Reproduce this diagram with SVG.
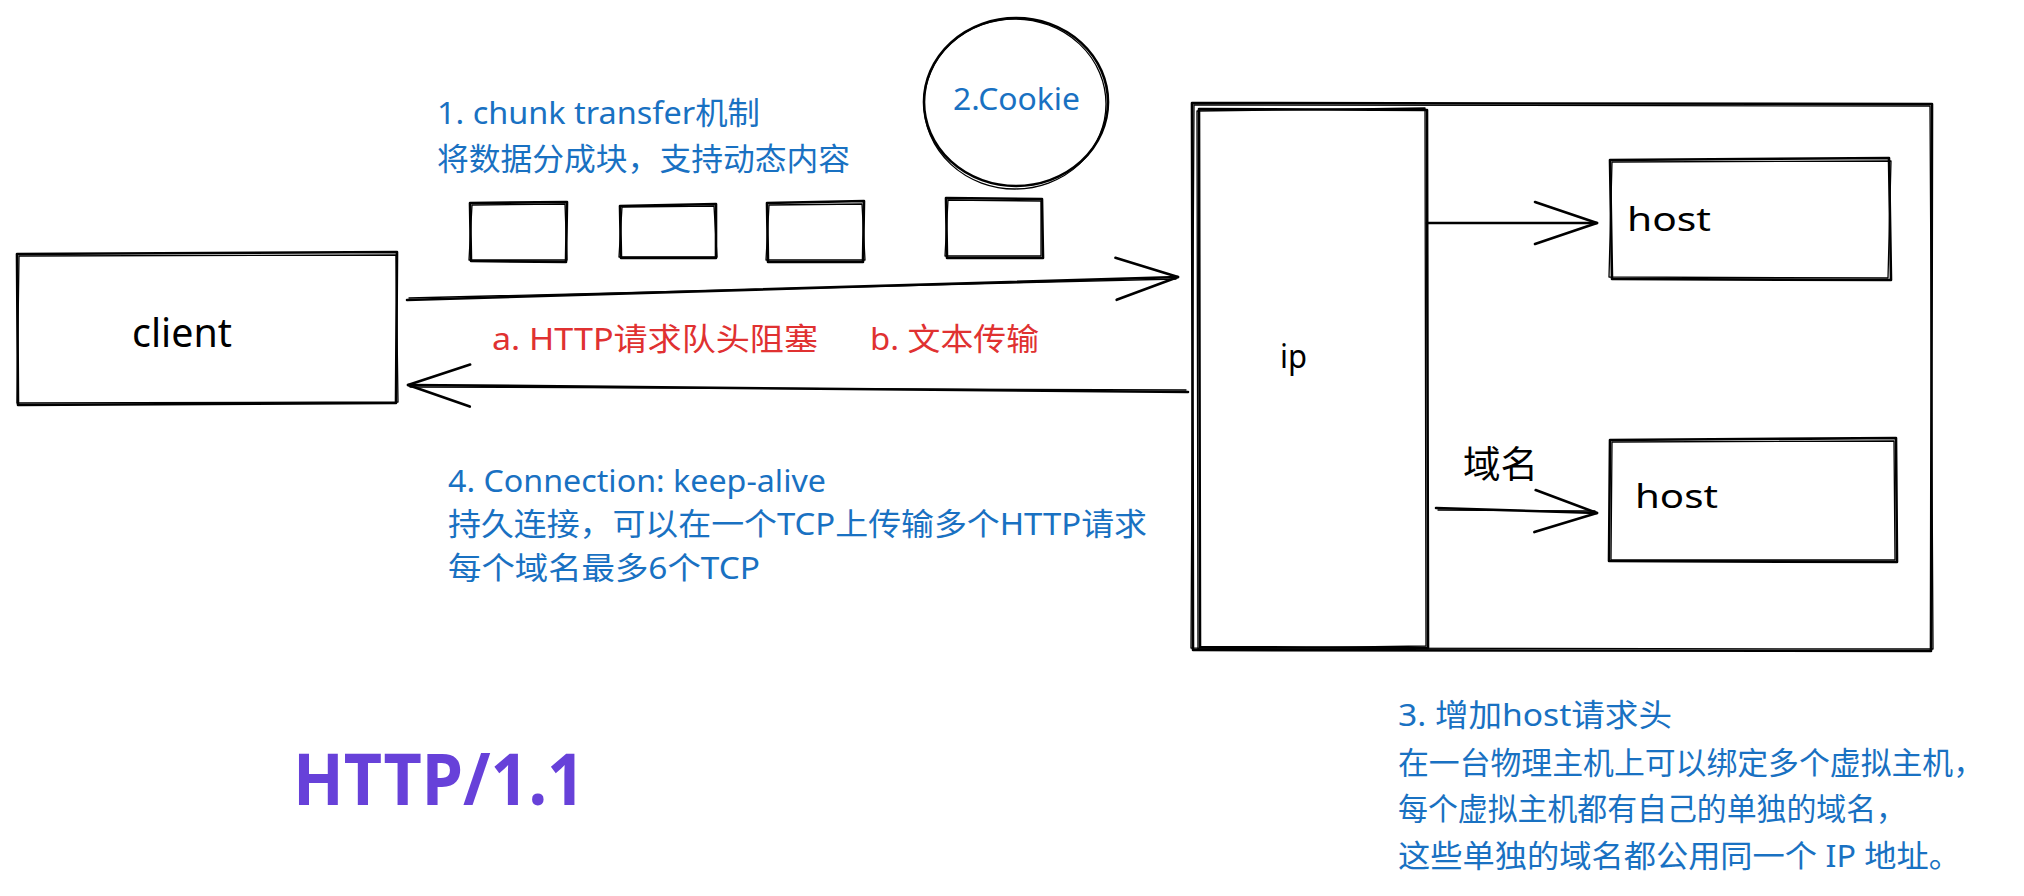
<svg xmlns="http://www.w3.org/2000/svg" width="2024" height="896" viewBox="0 0 2024 896">
<style>
.sk{fill:none;stroke:#000;stroke-width:2.6;stroke-linecap:round;stroke-linejoin:round}
.sk2{fill:none;stroke:#000;stroke-width:1.3;stroke-linecap:round;stroke-linejoin:round}
.t{font-family:"Noto Sans","Noto Sans CJK SC",sans-serif}
.blue{fill:#1971c2;font-size:31px}
.red{fill:#e03131;font-size:31px}
.blk{fill:#000}
.note{fill:#1971c2;font-size:31px}
</style>
<defs>
<marker id="ah" markerUnits="userSpaceOnUse" markerWidth="80" markerHeight="60" viewBox="-70 -30 80 60" refX="0" refY="0" orient="auto" overflow="visible">
<path d="M-62,-21 L0,0 L-62,21" fill="none" stroke="#000" stroke-width="2.6" stroke-linecap="round" stroke-linejoin="round"/>
</marker>
</defs>
<rect width="2024" height="896" fill="#fff"/>

<g id="client">
<path class="sk" d="M17,254 L397,252 L396,403 L18,405 Z"/>
<path class="sk2" d="M19,256 L396,255 L398,402 L17,403 Z"/>
<text class="t blk" x="132" y="347" font-size="40" textLength="100" lengthAdjust="spacingAndGlyphs">client</text>
</g>

<g id="chunk-note">
<text class="t blue" x="437" y="124" textLength="323" lengthAdjust="spacingAndGlyphs">1. chunk transfer机制</text>
<text class="t blue" x="437" y="170" textLength="413" lengthAdjust="spacingAndGlyphs">将数据分成块，支持动态内容</text>
</g>

<g id="chunk1">
<path class="sk" d="M470,203 L567,202 L566,262 L471,261 Z"/>
<path class="sk2" d="M472,205 L565,204 L567,260 L469,260 Z"/>
</g>
<g id="chunk2">
<path class="sk" d="M620,206 L716,204 L716,258 L621,258 Z"/>
<path class="sk2" d="M622,207 L714,206 L717,257 L619,257 Z"/>
</g>
<g id="chunk3">
<path class="sk" d="M767,203 L864,201 L863,262 L768,262 Z"/>
<path class="sk2" d="M769,205 L862,204 L865,260 L766,260 Z"/>
</g>
<g id="chunk4">
<path class="sk" d="M946,198 L1042,199 L1043,258 L947,258 Z"/>
<path class="sk2" d="M948,200 L1041,201 L1041,256 L945,256 Z"/>
</g>

<g id="cookie">
<ellipse class="sk" cx="1016" cy="102" rx="92" ry="84"/>
<ellipse class="sk2" cx="1015" cy="104" rx="91" ry="85"/>
<text class="t blue" x="953" y="110" textLength="127" lengthAdjust="spacingAndGlyphs">2.Cookie</text>
</g>

<g id="red-notes">
<text class="t red" x="492" y="350" textLength="326" lengthAdjust="spacingAndGlyphs">a. HTTP请求队头阻塞</text>
<text class="t red" x="870" y="350" textLength="169" lengthAdjust="spacingAndGlyphs">b. 文本传输</text>
</g>

<g id="keepalive-note">
<text class="t blue" x="448" y="492" textLength="378" lengthAdjust="spacingAndGlyphs">4. Connection: keep-alive</text>
<text class="t blue" x="448" y="535" textLength="699" lengthAdjust="spacingAndGlyphs">持久连接，可以在一个TCP上传输多个HTTP请求</text>
<text class="t blue" x="448" y="579" textLength="312" lengthAdjust="spacingAndGlyphs">每个域名最多6个TCP</text>
</g>

<g id="server">
<path class="sk" d="M1192,103 L1932,104 L1931,651 L1193,650 Z"/>
<path class="sk2" d="M1194,105 L1930,106 L1933,649 L1191,648 Z"/>
</g>

<g id="ip">
<path class="sk" d="M1199,109 L1427,110 L1428,648 L1200,647 Z"/>
<path class="sk2" d="M1197,111 L1425,108 L1426,646 L1198,649 Z"/>
<text class="t blk" x="1280" y="368" font-size="32" textLength="27" lengthAdjust="spacingAndGlyphs">ip</text>
</g>

<g id="host1">
<path class="sk" d="M1610,160 L1889,158 L1891,280 L1612,279 Z"/>
<path class="sk2" d="M1612,162 L1891,161 L1888,278 L1609,277 Z"/>
<text class="t blk" x="1627" y="231" font-size="32" textLength="84" lengthAdjust="spacingAndGlyphs">host</text>
</g>

<g id="host2">
<path class="sk" d="M1610,440 L1896,438 L1897,562 L1609,561 Z"/>
<path class="sk2" d="M1612,442 L1894,441 L1895,560 L1611,560 Z"/>
<text class="t blk" x="1635" y="508" font-size="32" textLength="83" lengthAdjust="spacingAndGlyphs">host</text>
</g>

<g id="host-note">
<text class="t note" x="1398" y="726" textLength="274" lengthAdjust="spacingAndGlyphs">3. 增加host请求头</text>
<text class="t note" x="1398" y="774" textLength="586" lengthAdjust="spacingAndGlyphs">在一台物理主机上可以绑定多个虚拟主机，</text>
<text class="t note" x="1398" y="820" textLength="508" lengthAdjust="spacingAndGlyphs">每个虚拟主机都有自己的单独的域名，</text>
<text class="t note" x="1398" y="867" textLength="563" lengthAdjust="spacingAndGlyphs">这些单独的域名都公用同一个 IP 地址。</text>
</g>

<g id="title">
<text class="t" x="293" y="805" font-size="72" font-weight="bold" fill="#6741d9" textLength="292" lengthAdjust="spacingAndGlyphs">HTTP/1.1</text>
</g>

<g id="connectors">
<path class="sk" d="M407,300 L1178,277" marker-end="url(#ah)"/>
<path class="sk2" d="M409,298 L1176,279"/>
<path class="sk" d="M1188,392 L408,385" marker-end="url(#ah)"/>
<path class="sk2" d="M1186,390 L410,387"/>
<path class="sk" d="M1427,223 L1597,223" marker-end="url(#ah)"/>
<path class="sk" d="M1436,508 L1597,513" marker-end="url(#ah)"/>
<path class="sk2" d="M1438,510 L1595,511"/>
<text class="t blk" x="1463" y="478" font-size="37" textLength="75" lengthAdjust="spacingAndGlyphs">域名</text>
</g>
</svg>
